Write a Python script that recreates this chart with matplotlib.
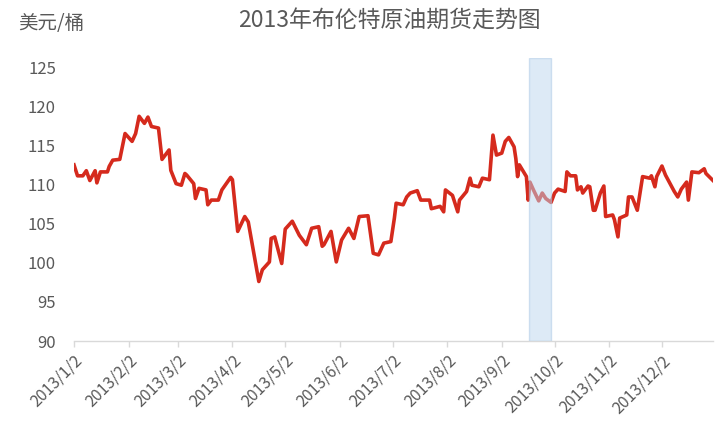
import matplotlib
matplotlib.use("Agg")
import matplotlib.pyplot as plt
import pandas as pd

plt.rcParams['font.family'] = ['Noto Sans CJK SC', 'DejaVu Sans']

title = "2013年布伦特原油期货走势图"
unit_label = "美元/桶"

dates = [
    "2013-01-02", "2013-01-04", "2013-01-07", "2013-01-09", "2013-01-11", "2013-01-14",
    "2013-01-15", "2013-01-17", "2013-01-21", "2013-01-22", "2013-01-24", "2013-01-28",
    "2013-01-31", "2013-02-04", "2013-02-06", "2013-02-08", "2013-02-11", "2013-02-13",
    "2013-02-15", "2013-02-19", "2013-02-21", "2013-02-25", "2013-02-26", "2013-03-01",
    "2013-03-04", "2013-03-06", "2013-03-07", "2013-03-11", "2013-03-12", "2013-03-14",
    "2013-03-18", "2013-03-19", "2013-03-21", "2013-03-25", "2013-03-27", "2013-04-01",
    "2013-04-02", "2013-04-05", "2013-04-09", "2013-04-11", "2013-04-17", "2013-04-19",
    "2013-04-23", "2013-04-24", "2013-04-26", "2013-04-30", "2013-05-02", "2013-05-06",
    "2013-05-08", "2013-05-10", "2013-05-14", "2013-05-17", "2013-05-21", "2013-05-23",
    "2013-05-24", "2013-05-28", "2013-05-31", "2013-06-03", "2013-06-07", "2013-06-10",
    "2013-06-13", "2013-06-18", "2013-06-21", "2013-06-24", "2013-06-27", "2013-07-01",
    "2013-07-03", "2013-07-04", "2013-07-08", "2013-07-10", "2013-07-12", "2013-07-16",
    "2013-07-18", "2013-07-23", "2013-07-24", "2013-07-29", "2013-07-31", "2013-08-01",
    "2013-08-05", "2013-08-08", "2013-08-09", "2013-08-13", "2013-08-15", "2013-08-16",
    "2013-08-20", "2013-08-22", "2013-08-26", "2013-08-28", "2013-08-30", "2013-09-02",
    "2013-09-04", "2013-09-06", "2013-09-09", "2013-09-10", "2013-09-11", "2013-09-12",
    "2013-09-16", "2013-09-17", "2013-09-18", "2013-09-20", "2013-09-23", "2013-09-25",
    "2013-09-27", "2013-09-30", "2013-10-02", "2013-10-04", "2013-10-08", "2013-10-09",
    "2013-10-11", "2013-10-14", "2013-10-15", "2013-10-17", "2013-10-18", "2013-10-21",
    "2013-10-22", "2013-10-24", "2013-10-25", "2013-10-28", "2013-10-30", "2013-10-31",
    "2013-11-04", "2013-11-05", "2013-11-07", "2013-11-08", "2013-11-12", "2013-11-13",
    "2013-11-15", "2013-11-18", "2013-11-21", "2013-11-25", "2013-11-26", "2013-11-28",
    "2013-11-29", "2013-12-02", "2013-12-04", "2013-12-09", "2013-12-11", "2013-12-13",
    "2013-12-16", "2013-12-17", "2013-12-19", "2013-12-23", "2013-12-26", "2013-12-27",
    "2013-12-31",
]

prices = [
    112.5, 111.1, 111.1, 111.75, 110.5, 111.75,
    110.2, 111.6, 111.6, 112.3, 113.1, 113.2,
    116.5, 115.5, 116.5, 118.7, 117.8, 118.6,
    117.4, 117.2, 113.2, 114.4, 111.8, 110.1,
    109.9, 111.4, 111.2, 110.1, 108.2, 109.5,
    109.3, 107.4, 108.0, 108.0, 109.3, 110.9,
    110.6, 104.0, 105.9, 105.2, 97.6, 99.1,
    100.1, 103.1, 103.3, 99.9, 104.3, 105.3,
    104.4, 103.5, 102.3, 104.4, 104.6, 102.1,
    102.3, 104.0, 100.1, 102.9, 104.4, 103.1,
    105.9, 106.0, 101.2, 101.0, 102.5, 102.7,
    105.7, 107.6, 107.4, 108.4, 108.9, 109.2,
    108.0, 108.0, 106.9, 107.2, 106.5, 109.3,
    108.6, 106.5, 108.0, 109.1, 110.8, 109.9,
    109.7, 110.8, 110.6, 116.3, 113.75, 114.0,
    115.5, 116.0, 114.8, 113.3, 111.0, 112.5,
    111.0, 108.0, 110.3, 109.3, 107.9, 108.9,
    108.2, 107.7, 108.9, 109.4, 109.1, 111.6,
    111.1, 111.1, 109.3, 109.7, 108.9, 109.8,
    109.7, 106.7, 106.7, 108.9, 109.8, 105.9,
    106.1, 105.5, 103.3, 105.7, 106.1, 108.4,
    108.4, 106.7, 111.0, 110.8, 111.1, 109.7,
    111.0, 112.35, 111.2, 109.1, 108.4, 109.4,
    110.3, 108.0, 111.6, 111.5, 112.0, 111.4,
    110.5,
]

tick_dates = ["2013-01-02", "2013-02-02", "2013-03-02", "2013-04-02", "2013-05-02",
              "2013-06-02", "2013-07-02", "2013-08-02", "2013-09-02", "2013-10-02",
              "2013-11-02", "2013-12-02"]
tick_labels = ["2013/1/2", "2013/2/2", "2013/3/2", "2013/4/2", "2013/5/2", "2013/6/2",
               "2013/7/2", "2013/8/2", "2013/9/2", "2013/10/2", "2013/11/2", "2013/12/2"]
y_ticks = [90, 95, 100, 105, 110, 115, 120, 125]

band_start = "2013-09-17 18:00"
band_end = "2013-09-29 22:00"

x = pd.to_datetime(dates)

fig = plt.figure(figsize=(7.17, 4.33), dpi=100)
ax = fig.add_axes([74/717, 1-341/433, (713-74)/717, (341-58)/433])

ax.plot(x, prices, color='#D52A1D', lw=2.6, solid_joinstyle='round', zorder=2)
ax.axvspan(pd.Timestamp(band_start), pd.Timestamp(band_end), ymin=0, ymax=1,
           facecolor='#BDD7EE', edgecolor='#A9C8E6', lw=1.0, alpha=0.5, zorder=3)

ax.set_xlim(pd.Timestamp("2013-01-02"), pd.Timestamp("2013-12-31"))
ax.set_ylim(90, 126.15)

ax.set_yticks(y_ticks)
ax.set_yticklabels([str(v) for v in y_ticks])
ax.set_xticks(pd.to_datetime(tick_dates))
ax.set_xticklabels(tick_labels, rotation=45, ha='right', rotation_mode='anchor')

for s in ['top', 'right', 'left']:
    ax.spines[s].set_visible(False)
ax.spines['bottom'].set_color('#D9D9D9')
ax.spines['bottom'].set_linewidth(1.0)

ax.tick_params(axis='y', length=0, pad=13, labelsize=12, labelcolor='#595959')
ax.tick_params(axis='x', length=4, width=1.0, color='#D9D9D9', direction='out',
               pad=4, labelsize=11.5, labelcolor='#595959')

fig.text(389/717, 1-21/433, title, ha='center', va='center', fontsize=16.5, color='#595959')
fig.text(18/717, 1-23/433, unit_label, ha='left', va='center', fontsize=14, color='#595959')

fig.savefig("out.png", dpi=100)
